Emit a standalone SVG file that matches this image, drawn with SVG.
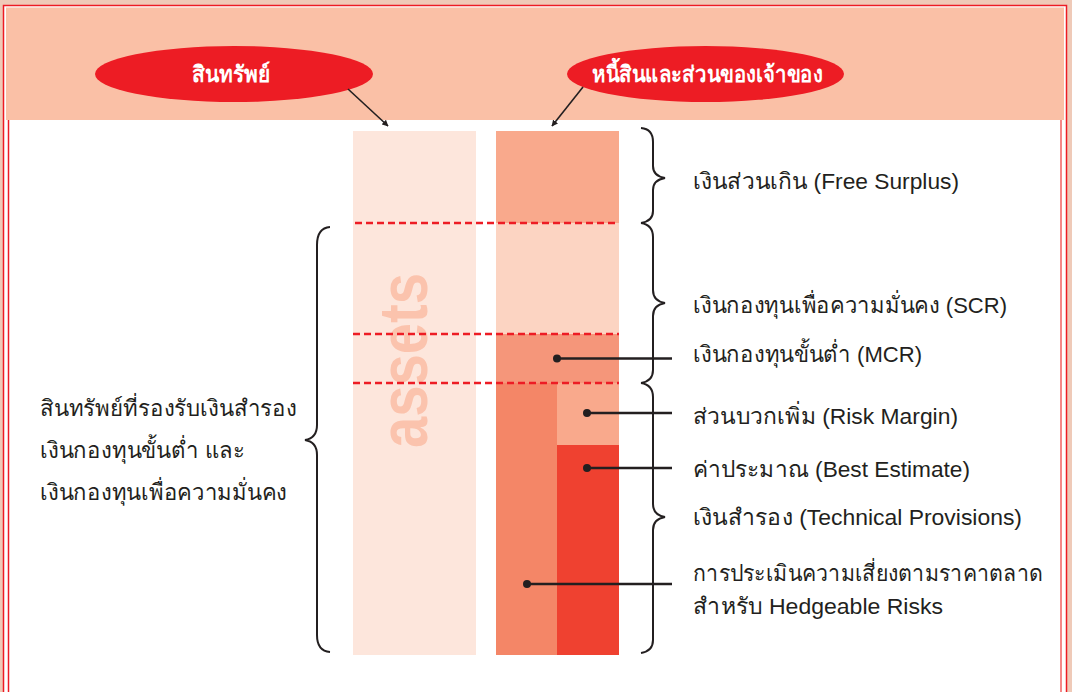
<svg xmlns="http://www.w3.org/2000/svg" width="1072" height="692" viewBox="0 0 1072 692">
<style>
.lbl{font-family:"Liberation Sans","Noto Sans",sans-serif;font-size:22.5px;fill:#231f20}
.hdr{font-family:"Liberation Sans","Noto Sans",sans-serif;font-size:22.5px;font-weight:bold;fill:#ffffff}
.brace{fill:none;stroke:#231f20;stroke-width:2}
.dash{stroke:#ed1c24;stroke-width:2.5;stroke-dasharray:7 4;fill:none}
.conn{stroke:#231f20;stroke-width:2.5;fill:none}
.dot{fill:#231f20}
</style>
<defs>
<marker id="ah" viewBox="0 0 10 10" refX="9" refY="5" markerWidth="4" markerHeight="4" orient="auto" markerUnits="strokeWidth">
<path d="M0,0 L10,5 L0,10 z" fill="#231f20"/>
</marker>
</defs>
<g id="frame">
<rect x="0" y="0" width="1072" height="692" fill="#efcab8"/>
<rect x="3.5" y="5.5" width="1063" height="700" fill="#ffffff" stroke="#ed1c24" stroke-width="1.5"/>
<rect x="6" y="7.5" width="1058" height="112.5" fill="#fac0a6"/>
<line x1="8.5" y1="120" x2="8.5" y2="692" stroke="#ed1c24" stroke-width="1.5"/>
<line x1="1061" y1="120" x2="1061" y2="692" stroke="#f06060" stroke-width="1.5"/>
</g>
<g id="assets-bar">
<rect x="353" y="131" width="123" height="524" fill="#fde6dc"/>
<text x="0" y="0" transform="translate(427,360.5) rotate(-90)" text-anchor="middle" font-family="Liberation Sans, Arial, sans-serif" font-weight="bold" font-size="68" fill="#fbc3ad" textLength="175" lengthAdjust="spacingAndGlyphs">assets</text>
</g>
<g id="liabilities-bar">
<rect x="496" y="131" width="123" height="92" fill="#f9a98c"/>
<rect x="496" y="223" width="123" height="111" fill="#fcd4c2"/>
<rect x="496" y="334" width="123" height="49" fill="#f5967a"/>
<rect x="496" y="383" width="61" height="272" fill="#f48667"/>
<rect x="557" y="383" width="62" height="62" fill="#f9a98c"/>
<rect x="557" y="445" width="62" height="210" fill="#ef4130"/>
</g>
<g id="levels">
<line class="dash" x1="355" y1="223" x2="619" y2="223"/>
<line class="dash" x1="353" y1="334" x2="619" y2="334"/>
<line class="dash" x1="353" y1="383" x2="619" y2="383"/>
</g>
<g id="node-assets">
<ellipse cx="234" cy="74" rx="139" ry="28" fill="#ed1c24"/>
<text class="hdr" x="192" y="82" textLength="78" lengthAdjust="spacingAndGlyphs">สินทรัพย์</text>
</g>
<g id="node-liabilities">
<ellipse cx="705.5" cy="74" rx="138.5" ry="28" fill="#ed1c24"/>
<text class="hdr" x="592" y="82" textLength="231" lengthAdjust="spacingAndGlyphs">หนี้สินและส่วนของเจ้าของ</text>
</g>
<g id="braces">
<path class="brace" d="M330,227 Q317,228 317,245 L317,425 Q317,438 305,440 Q317,442 317,455 L317,635 Q317,651 330,652"/>
<path class="brace" d="M641,128 Q653,129 653,142 L653,166 Q653,176 665,178 Q653,180 653,190 L653,211 Q653,221 641,223"/>
<path class="brace" d="M641,223 Q653,225 653,237 L653,290 Q653,301 665,303 Q653,305 653,316 L653,370 Q653,381 641,383"/>
<path class="brace" d="M641,383 Q653,385 653,397 L653,504 Q653,515 665,517 Q653,519 653,530 L653,640 Q653,651 641,653"/>
</g>
<g id="connectors">
<line x1="348" y1="89" x2="388" y2="126" stroke="#231f20" stroke-width="1.6" marker-end="url(#ah)"/>
<line x1="583" y1="87" x2="552" y2="126" stroke="#231f20" stroke-width="1.6" marker-end="url(#ah)"/>
<circle class="dot" cx="557" cy="358.5" r="4"/>
<line class="conn" x1="557" y1="358.5" x2="672" y2="358.5"/>
<circle class="dot" cx="587" cy="413" r="4"/>
<line class="conn" x1="587" y1="413" x2="672" y2="413"/>
<circle class="dot" cx="587" cy="468" r="4"/>
<line class="conn" x1="587" y1="468" x2="672" y2="468"/>
<circle class="dot" cx="527" cy="584" r="4"/>
<line class="conn" x1="527" y1="584" x2="672" y2="584"/>
</g>
<g id="label-left">
<text class="lbl" x="40" y="416" textLength="257" lengthAdjust="spacingAndGlyphs">สินทรัพย์ที่รองรับเงินสำรอง</text>
<text class="lbl" x="40" y="458" textLength="205" lengthAdjust="spacingAndGlyphs">เงินกองทุนขั้นต่ำ และ</text>
<text class="lbl" x="40" y="500" textLength="247" lengthAdjust="spacingAndGlyphs">เงินกองทุนเพื่อความมั่นคง</text>
</g>
<g id="labels-right">
<text class="lbl" x="693" y="189" textLength="266" lengthAdjust="spacingAndGlyphs">เงินส่วนเกิน (Free Surplus)</text>
<text class="lbl" x="693" y="313" textLength="314" lengthAdjust="spacingAndGlyphs">เงินกองทุนเพื่อความมั่นคง (SCR)</text>
<text class="lbl" x="693" y="362" textLength="229" lengthAdjust="spacingAndGlyphs">เงินกองทุนขั้นต่ำ (MCR)</text>
<text class="lbl" x="693" y="424" textLength="265" lengthAdjust="spacingAndGlyphs">ส่วนบวกเพิ่ม (Risk Margin)</text>
<text class="lbl" x="693" y="477" textLength="277" lengthAdjust="spacingAndGlyphs">ค่าประมาณ (Best Estimate)</text>
<text class="lbl" x="693" y="525" textLength="329" lengthAdjust="spacingAndGlyphs">เงินสำรอง (Technical Provisions)</text>
<text class="lbl" x="693" y="581" textLength="350" lengthAdjust="spacingAndGlyphs">การประเมินความเสี่ยงตามราคาตลาด</text>
<text class="lbl" x="693" y="614" textLength="250" lengthAdjust="spacingAndGlyphs">สำหรับ Hedgeable Risks</text>
</g>
</svg>
